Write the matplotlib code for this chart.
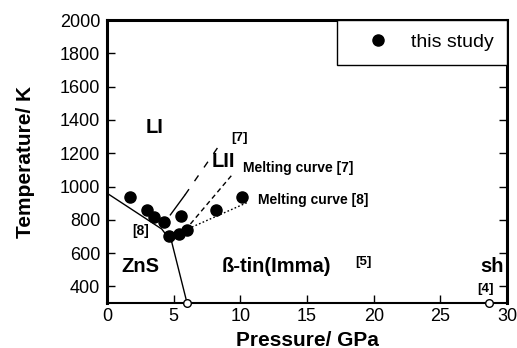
import matplotlib
matplotlib.use("Agg")
import matplotlib.pyplot as plt

plt.rcParams['font.family'] = ['Liberation Sans', 'DejaVu Sans']

# this study: measured points
p_study = [1.7, 3.0, 3.5, 4.3, 5.55, 4.65, 5.4, 6.0, 8.2, 10.1]
t_study = [940, 860, 815, 785, 825, 705, 715, 740, 860, 940]

# phase boundaries
p_zns_liq = [0.0, 4.1, 4.85]
t_zns_liq = [960, 745, 667]
p_zns_btin = [4.85, 6.0]
t_zns_btin = [667, 300]
p_li_lii_solid = [4.75, 5.85]
t_li_lii_solid = [830, 950]
p_li_lii_dash = [5.85, 8.35]
t_li_lii_dash = [950, 1240]
p_melt7 = [5.85, 9.35]
t_melt7 = [737, 1068]
p_melt8 = [6.1, 10.6]
t_melt8 = [747, 907]

# transition points at room temperature
p_open = [6.0, 28.6]
t_open = [300, 300]

xticks = [0, 5, 10, 15, 20, 25, 30]
yticks = [400, 600, 800, 1000, 1200, 1400, 1600, 1800, 2000]

fig = plt.figure(figsize=(5.17, 3.48), dpi=100)
ax = fig.add_axes([0.207, 0.129, 0.774, 0.8135])

ax.plot(p_zns_liq, t_zns_liq, color='black', lw=1.0)
ax.plot(p_zns_btin, t_zns_btin, color='black', lw=1.0)
ax.plot(p_li_lii_solid, t_li_lii_solid, color='black', lw=1.0)
ax.plot(p_li_lii_dash, t_li_lii_dash, color='black', lw=1.0, dashes=(5, 7))
ax.plot(p_melt7, t_melt7, color='black', lw=1.0, dashes=(3.5, 2.5))
ax.plot(p_melt8, t_melt8, color='black', lw=1.0, dashes=(1.2, 1.6))

ax.plot(p_study, t_study, 'o', color='black', ms=8, ls='none', zorder=5, label='this study')
ax.plot(p_open, t_open, 'o', mfc='white', mec='black', mew=1.0, ms=5.5, ls='none',
        zorder=6, clip_on=False)

# labels inside the diagram
ax.text(3.6, 1357, 'LI', fontsize=14.5, fontweight='bold', ha='center', va='center')
ax.text(9.95, 1293, '[7]', fontsize=9.5, fontweight='bold', ha='center', va='center')
ax.text(8.7, 1148, 'LII', fontsize=14.5, fontweight='bold', ha='center', va='center')
ax.text(10.2, 1110, 'Melting curve [7]', fontsize=10, fontweight='bold', ha='left', va='center')
ax.text(11.3, 922, 'Melting curve [8]', fontsize=10, fontweight='bold', ha='left', va='center')
ax.text(2.5, 731, '[8]', fontsize=10, fontweight='bold', ha='center', va='center')
ax.text(2.5, 518, 'ZnS', fontsize=14.5, fontweight='bold', ha='center', va='center')
ax.text(12.7, 518, 'ß-tin(Imma)', fontsize=14.5, fontweight='bold', ha='center', va='center')
ax.text(19.2, 546, '[5]', fontsize=9.5, fontweight='bold', ha='center', va='center')
ax.text(28.85, 520, 'sh', fontsize=14.5, fontweight='bold', ha='center', va='center')
ax.text(28.4, 382, '[4]', fontsize=9.5, fontweight='bold', ha='center', va='center')

ax.set_xlim(0, 30)
ax.set_ylim(300, 2000)
ax.set_xticks(xticks)
ax.set_yticks(yticks)
ax.tick_params(direction='in', length=6, width=1.0, labelsize=13, right=True, top=False)
ax.tick_params(axis='y', pad=5)
ax.set_xlabel('Pressure/ GPa', fontsize=15, fontweight='bold', labelpad=4)
ax.set_ylabel('Temperature/ K', fontsize=15, fontweight='bold', labelpad=18)

for side in ['left', 'top', 'right']:
    ax.spines[side].set_linewidth(2.2)
ax.spines['bottom'].set_linewidth(1.5)

leg = ax.legend(loc='upper right', borderaxespad=0, fontsize=14, frameon=True,
                fancybox=False, framealpha=1, edgecolor='black', borderpad=0.7,
                handlelength=2.8, handletextpad=0.3)
leg.get_frame().set_linewidth(1.0)

fig.savefig('out.png', dpi=100)
